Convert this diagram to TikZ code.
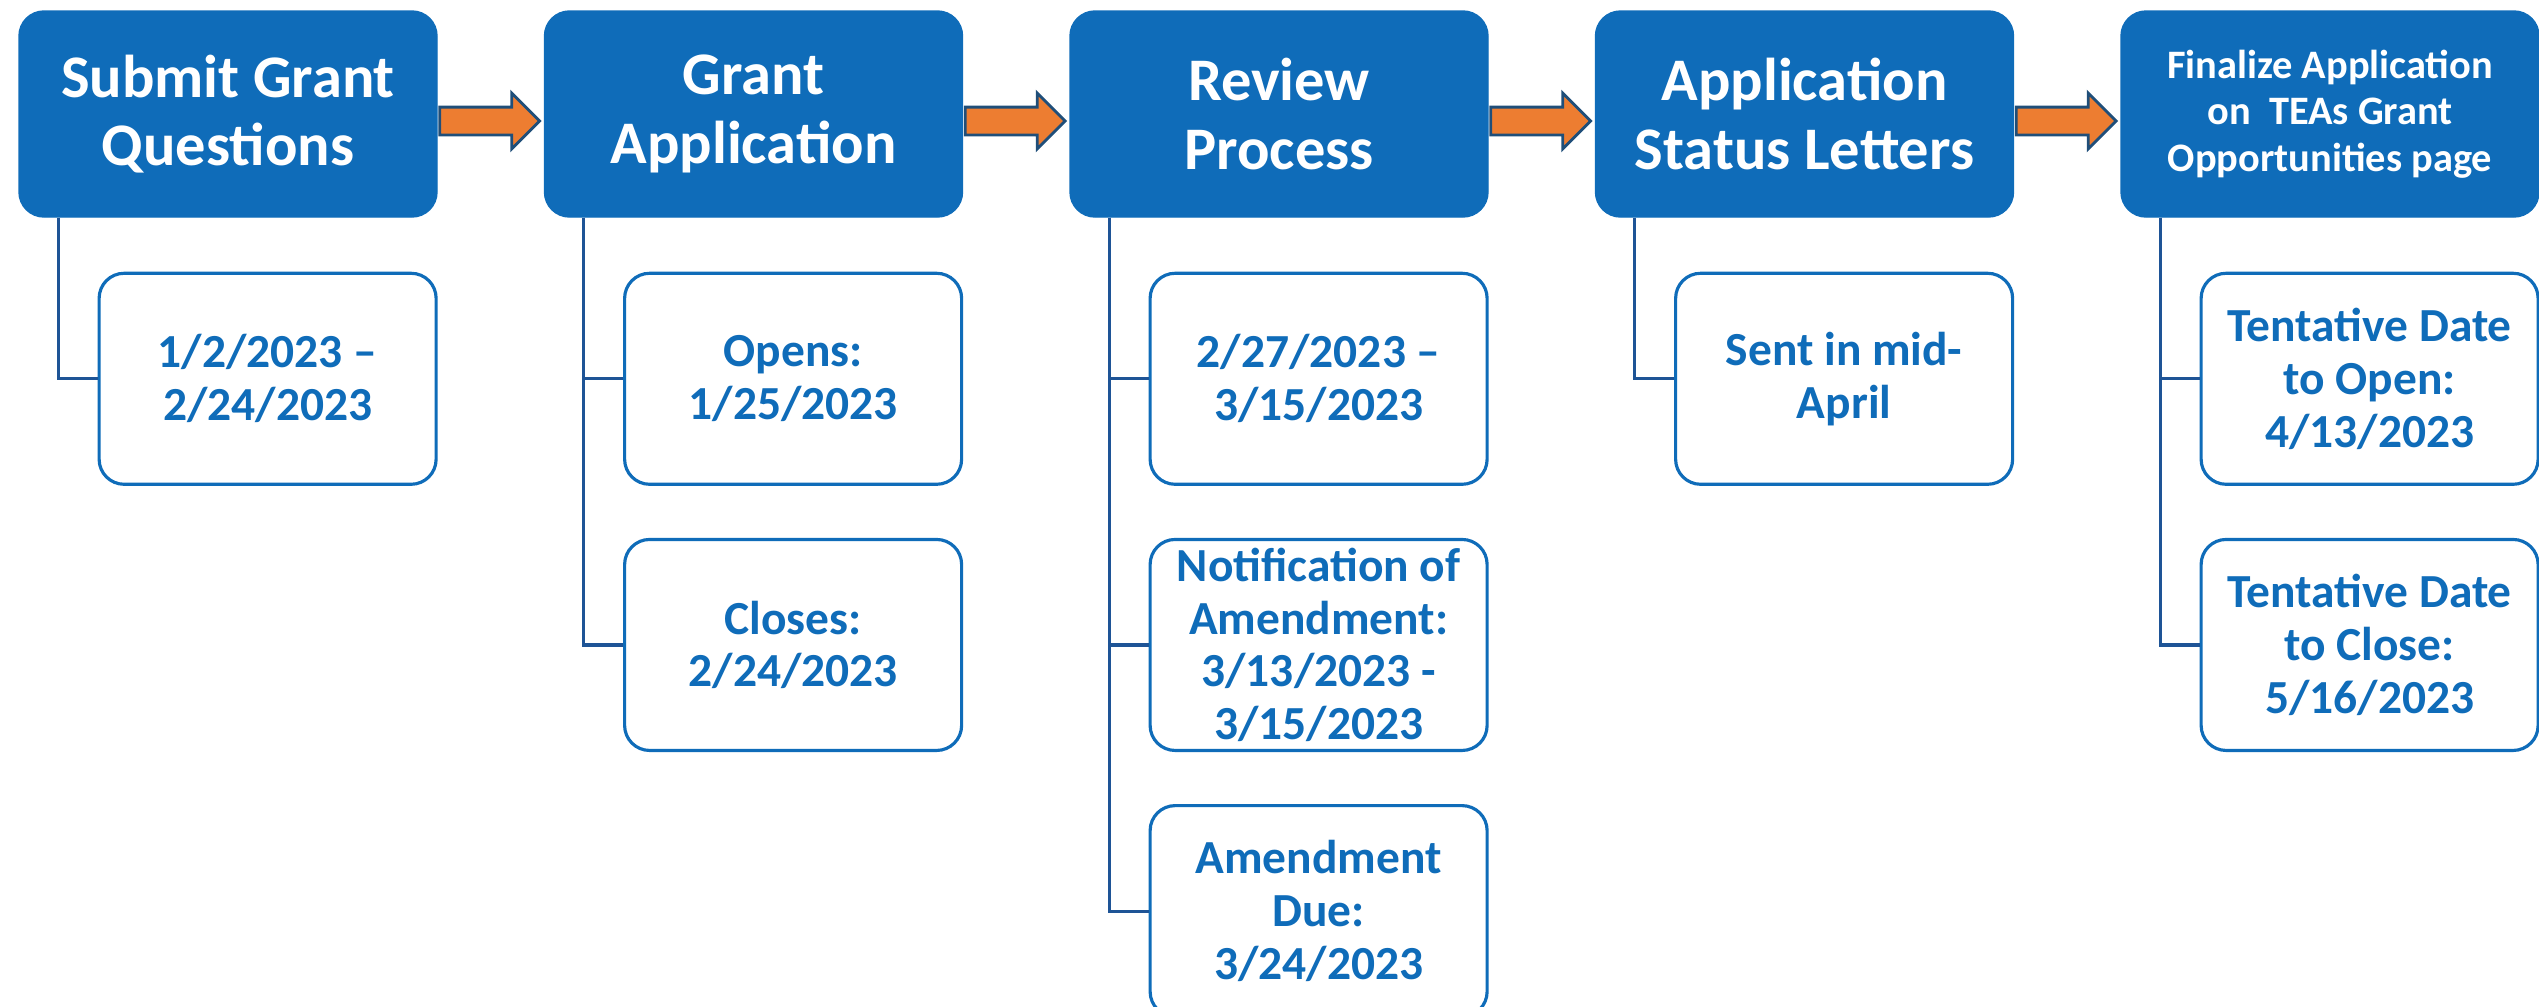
\documentclass[tikz,border=0pt]{standalone}
\usepackage{fontspec}
\setmainfont{Carlito}
\usepackage{tikz}
\usetikzlibrary{positioning}
\usetikzlibrary{shapes.arrows}
\definecolor{teablue}{RGB}{15,108,185}
\definecolor{linkblue}{RGB}{30,84,150}
\definecolor{arrowfill}{RGB}{237,125,49}
\definecolor{arrowline}{RGB}{31,78,121}
\tikzstyle{stage}=[draw=teablue, fill=teablue, text=white, rounded corners=0.25cm,
                minimum width=4.18cm, minimum height=2.06cm, align=center, inner sep=0pt,
                font=\bfseries\fontsize{17.2}{19.4}\selectfont]
\tikzstyle{small stage}=[stage, font=\bfseries\fontsize{11.5}{13.2}\selectfont]
\tikzstyle{datebox}=[draw=teablue, line width=0.9pt, fill=white, text=teablue,
                rounded corners=0.25cm, minimum width=3.37cm, minimum height=2.11cm,
                align=center, inner sep=0pt, font=\bfseries\fontsize{13.5}{15}\selectfont]
\tikzstyle{flow}=[single arrow, draw=arrowline, fill=arrowfill, line width=0.8pt,
                inner xsep=0pt, inner ysep=0.125cm, single arrow head extend=0.14cm,
                minimum height=1cm, outer sep=0pt]
\tikzstyle{trunk}=[draw=linkblue, line width=0.9pt]

\begin{document}
\begin{tikzpicture}
\useasboundingbox (0,0) rectangle (25.39,-10.07);
\def \gap {5.255}

% stages along the top
\node[stage] at (2.28,-1.14) (h1) {Submit Grant\\Questions};
\node[stage] at ({2.28+\gap},-1.14) (h2) {Grant\\Application};
\node[stage] at ({2.28+2*\gap},-1.14) (h3) {Review\\Process};
\node[stage] at ({2.28+3*\gap},-1.14) (h4) {Application\\Status Letters};
\node[small stage] at ({2.28+4*\gap},-1.14) (h5) {Finalize Application\\on~ TEAs Grant\\Opportunities page};

\foreach \s in {1,...,4}
{
  \node[flow, right=0.02cm of h\s.east, yshift=-0.07cm] (arr\s) {};
}

% dates under each stage
\node[datebox, below=0.54cm of h1.south east, anchor=north east] (d11) {1/2/2023 --\\2/24/2023};

\node[datebox, below=0.54cm of h2.south east, anchor=north east] (d21) {Opens:\\1/25/2023};
\node[datebox, below=0.52cm of d21] (d22) {Closes:\\2/24/2023};

\node[datebox, below=0.54cm of h3.south east, anchor=north east] (d31) {2/27/2023 --\\3/15/2023};
\node[datebox, below=0.52cm of d31] (d32) {Notification of\\Amendment:\\3/13/2023 -\\3/15/2023};
\node[datebox, below=0.52cm of d32] (d33) {Amendment\\Due:\\3/24/2023};

\node[datebox, below=0.54cm of h4.south east, anchor=north east] (d41) {Sent in mid-\\April};

\node[datebox, below=0.54cm of h5.south east, anchor=north east] (d51) {Tentative Date\\to Open:\\4/13/2023};
\node[datebox, below=0.52cm of d51] (d52) {Tentative Date\\to Close:\\5/16/2023};

\foreach \h/\d in {h1/d11, h2/d21, h2/d22, h3/d31, h3/d32, h3/d33, h4/d41, h5/d51, h5/d52}
{
  \draw[trunk] ([xshift=0.4cm]\h.south west) |- (\d.west);
}
\end{tikzpicture}
\end{document}
